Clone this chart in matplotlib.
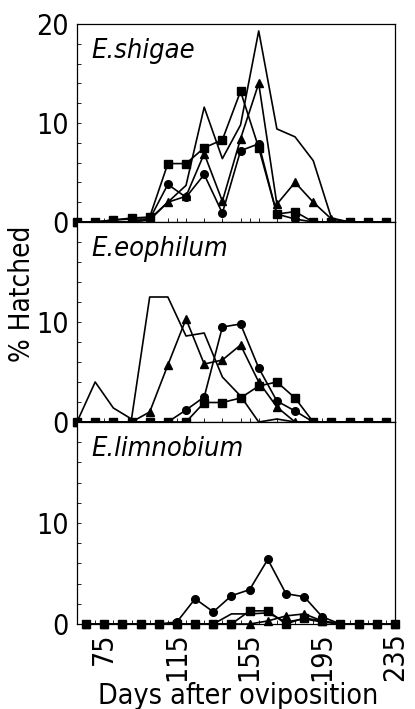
import matplotlib
matplotlib.use('Agg')
import matplotlib.pyplot as plt
from matplotlib.ticker import MultipleLocator

plt.rcParams['font.family'] = ['DejaVu Sans']
plt.rcParams['font.stretch'] = 'condensed'

# days for the top two panels and for the bottom panel
days_top = [60, 70, 80, 90, 100, 110, 120, 130, 140, 150, 160, 170, 180, 190, 200, 210, 220, 230]
days_bot = [65, 75, 85, 95, 105, 115, 125, 135, 145, 155, 165, 175, 185, 195, 205, 215, 225, 235]

# E. shigae
shig_line = [0, 0, 0, 0, 0.3, 2.0, 3.7, 11.6, 6.4, 9.8, 19.3, 9.4, 8.6, 6.2, 0.4, 0, 0, 0]
shig_circ = [0, 0, 0.2, 0.3, 0.3, 3.8, 2.5, 4.8, 0.9, 7.2, 7.9, 0.8, 0.3, 0, 0, 0, 0, 0]
shig_sq = [0, 0, 0.2, 0.4, 0.5, 5.9, 5.9, 7.5, 8.3, 13.2, 7.5, 0.8, 1.05, 0, 0, 0, 0, 0]
shig_tri = [0, 0, 0, 0, 0.2, 2.0, 2.6, 6.9, 2.1, 8.4, 14.0, 1.8, 4.0, 2.0, 0.3, 0, 0, 0]

# E. eophilum
eoph_line = [0, 4.0, 1.4, 0.3, 12.5, 12.5, 8.6, 8.9, 4.5, 2.6, 0, 0.3, 0, 0, 0, 0, 0, 0]
eoph_circ = [0, 0, 0, 0, 0, 0, 1.2, 2.5, 9.5, 9.8, 5.4, 2.1, 1.1, 0, 0, 0, 0, 0]
eoph_sq = [0, 0, 0, 0, 0, 0, 0, 1.95, 1.95, 2.4, 3.6, 4.0, 2.4, 0, 0, 0, 0, 0]
eoph_tri = [0, 0, 0, 0, 1.0, 5.7, 10.3, 5.8, 6.2, 7.7, 4.0, 1.5, 0, 0, 0, 0, 0, 0]

# E. limnobium
limn_line = [0, 0, 0, 0, 0, 0, 0, 0, 1.0, 1.0, 1.1, 0.2, 0.5, 0.2, 0, 0, 0, 0]
limn_circ = [0, 0, 0, 0, 0, 0.2, 2.5, 1.2, 2.8, 3.4, 6.4, 3.0, 2.7, 0.7, 0, 0, 0, 0]
limn_sq = [0, 0, 0, 0, 0, 0, 0, 0, 0, 1.3, 1.3, 0, 0.6, 0.3, 0, 0, 0, 0]
limn_tri = [0, 0, 0, 0, 0, 0, 0, 0, 0, 0, 0.3, 0.8, 1.0, 0.3, 0, 0, 0, 0]

titles = ['E.shigae', 'E.eophilum', 'E.limnobium']
xticks = [75, 115, 155, 195, 235]

panels = [
    (days_top, shig_line, shig_circ, shig_sq, shig_tri, [0, 10, 20]),
    (days_top, eoph_line, eoph_circ, eoph_sq, eoph_tri, [0, 10]),
    (days_bot, limn_line, limn_circ, limn_sq, limn_tri, [0, 10]),
]

fig = plt.figure(figsize=(4.15, 7.09), dpi=100)

L = 77 / 415
W = (395 - 77) / 415
edges = [24, 222, 422, 624]

for i, (d, ln, ci, sq, tr, yt) in enumerate(panels):
    top = 1 - edges[i] / 709
    bot = 1 - edges[i + 1] / 709
    ax = fig.add_axes([L, bot, W, top - bot])
    kw = dict(color='black', lw=1.2, clip_on=False)
    ax.plot(d, ln, **kw)
    ax.plot(d, ci, marker='o', ms=5.5, **kw)
    ax.plot(d, tr, marker='^', ms=5.5, **kw)
    ax.plot(d, sq, marker='s', ms=5.5, **kw)
    ax.set_xlim(60, 231)
    ax.set_ylim(0, 20)
    ax.set_yticks(yt)
    ax.yaxis.set_minor_locator(MultipleLocator(2))
    ax.set_xticks(xticks)
    ax.xaxis.set_minor_locator(MultipleLocator(10))
    ax.tick_params(which='both', direction='in', labelsize=20.5, length=3, width=0.6)
    ax.tick_params(axis='y', which='major', pad=6)
    for s in ax.spines.values():
        s.set_linewidth(0.9)
    if i < 2:
        ax.tick_params(axis='x', labelbottom=False)
    else:
        ax.tick_params(axis='x', labelrotation=90, pad=6)
    ax.text(0.045, 0.93, titles[i], transform=ax.transAxes, fontsize=19.5,
            style='italic', va='top', ha='left')

fig.text(22 / 415, 1 - 294 / 709, '% Hatched', rotation=90, fontsize=20,
         ha='center', va='center')
fig.text(238 / 415, 1 - 696 / 709, 'Days after oviposition', fontsize=20.5,
         ha='center', va='center')

fig.savefig('out.png', dpi=100)
